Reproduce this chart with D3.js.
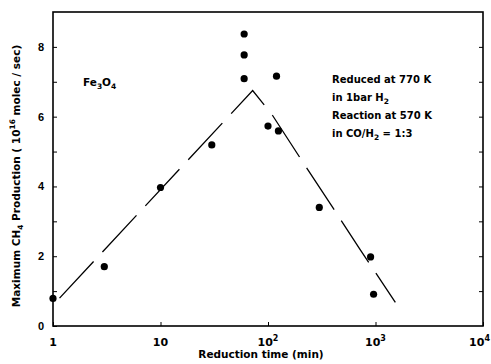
<!DOCTYPE html>
<html>
<head>
<meta charset="utf-8">
<script src="https://cdn.jsdelivr.net/npm/d3@7"></script>
<style>
  body { margin: 0; background: #fff; }
  svg { display: block; font-family: "DejaVu Sans", "Liberation Sans", sans-serif; }
</style>
</head>
<body>
<svg id="chart"></svg>
<script>
// measured points
var times = [1, 3, 10, 30, 60, 60, 60, 120, 100, 125, 300, 900, 960]
var production = [0.79, 1.70, 3.97, 5.19, 8.37, 7.77, 7.09, 7.16, 5.73, 5.59, 3.40, 1.98, 0.91]

// hand drawn trend line
var trendTime = [1.15, 72, 110, 220, 390, 720, 1530]
var trendValue = [0.8, 6.75, 6.04, 4.61, 3.45, 2.19, 0.68]

var xTicks = [1, 10, 100, 1000, 10000]
var xTickBase = ["1", "10", "10", "10", "10"]
var xTickExp = ["", "", "2", "3", "4"]
var yMajor = [0, 2, 4, 6, 8]
var yMinor = [1, 3, 5, 7]
var yAll = [1, 2, 3, 4, 5, 6, 7, 8]

var width = 491, height = 364
var margin = { top: 12, right: 8, bottom: 38, left: 53 }

var svg = d3.select("#chart")
    .attr("width", width)
    .attr("height", height)

var xScale = d3.scaleLog()
    .domain([1, 10000])
    .range([margin.left, width - margin.right])

var yScale = d3.scaleLinear()
    .domain([0, 9])
    .range([height - margin.bottom, margin.top])

var points = times.map((t, i) => ({ t: t, v: production[i] }))
var trend = trendTime.map((t, i) => ({ t: t, v: trendValue[i] }))

// frame
svg.append("rect")
    .attr("x", margin.left)
    .attr("y", margin.top)
    .attr("width", width - margin.left - margin.right)
    .attr("height", height - margin.top - margin.bottom)
    .attr("fill", "none")
    .attr("stroke", "#000")
    .attr("stroke-width", 1.6)

// left axis, ticks inward
var yAxis = svg.append("g")
    .attr("transform", `translate(${margin.left},0)`)
    .call(d3.axisLeft(yScale).tickValues(yMajor).tickSize(-4).tickPadding(9))
yAxis.select(".domain").remove()
yAxis.selectAll("text")
    .attr("font-size", 11)
    .attr("font-weight", "bold")
    .attr("fill", "#000")

svg.append("g")
    .attr("transform", `translate(${margin.left},0)`)
    .call(d3.axisLeft(yScale).tickValues(yMinor).tickSize(-4).tickFormat(""))
    .select(".domain").remove()

// right axis ticks
svg.append("g")
    .attr("transform", `translate(${width - margin.right},0)`)
    .call(d3.axisRight(yScale).tickValues(yAll).tickSize(-4).tickFormat(""))
    .select(".domain").remove()

// bottom axis
var xAxis = svg.append("g")
    .attr("transform", `translate(0,${height - margin.bottom})`)
    .call(d3.axisBottom(xScale).tickValues(xTicks).tickSize(-4).tickFormat(""))
xAxis.select(".domain").remove()

svg.selectAll(".xlab")
    .data(xTicks)
    .join("text")
    .attr("class", "xlab")
    .attr("x", (d, i) => i == xTicks.length - 1 ? width - 1 : xScale(d))
    .attr("y", 346)
    .attr("text-anchor", (d, i) => i == xTicks.length - 1 ? "end" : "middle")
    .attr("font-size", 11)
    .attr("font-weight", "bold")
    .each(function(d, i) {
        var t = d3.select(this)
        t.append("tspan").text(xTickBase[i])
        if (xTickExp[i]) {
            t.append("tspan").attr("dy", -5).attr("font-size", 8).text(xTickExp[i])
        }
    })

// axis titles
svg.append("text")
    .attr("x", 261)
    .attr("y", 358)
    .attr("text-anchor", "middle")
    .attr("font-size", 10.5)
    .attr("font-weight", "bold")
    .text("Reduction time (min)")

var yt = svg.append("text")
    .attr("transform", "translate(20,176) rotate(-90)")
    .attr("text-anchor", "middle")
    .attr("font-size", 10.5)
    .attr("font-weight", "bold")
yt.append("tspan").text("Maximum CH")
yt.append("tspan").attr("dy", 3).attr("font-size", 7.5).text("4")
yt.append("tspan").attr("dy", -3).text(" Production  ( 10")
yt.append("tspan").attr("dy", -5).attr("font-size", 7.5).text("16")
yt.append("tspan").attr("dy", 5).text(" molec / sec)")

// trend line
var lineGen = d3.line()
    .x(d => xScale(d.t))
    .y(d => yScale(d.v))

svg.append("path")
    .attr("d", lineGen(trend))
    .attr("fill", "none")
    .attr("stroke", "#000")
    .attr("stroke-width", 1.3)
    .attr("stroke-dasharray", "50,13")

// data points
svg.selectAll(".pt")
    .data(points)
    .join("circle")
    .attr("class", "pt")
    .attr("cx", d => xScale(d.t))
    .attr("cy", d => yScale(d.v))
    .attr("r", 3.6)
    .attr("fill", "#000")

// labels
var fe = svg.append("text")
    .attr("x", 83)
    .attr("y", 86)
    .attr("font-size", 10.5)
    .attr("font-weight", "bold")
fe.append("tspan").text("Fe")
fe.append("tspan").attr("dy", 3).attr("font-size", 7.5).text("3")
fe.append("tspan").attr("dy", -3).text("O")
fe.append("tspan").attr("dy", 3).attr("font-size", 7.5).text("4")

var notes = [
    [["Reduced at 770 K", 0]],
    [["in 1bar H", 0], ["2", 1]],
    [["Reaction at 570 K", 0]],
    [["in CO/H", 0], ["2", 1], [" = 1:3", 2]]
]
notes.forEach(function(parts, i) {
    var t = svg.append("text")
        .attr("x", 332)
        .attr("y", 83 + i * 18)
        .attr("font-size", 10)
        .attr("font-weight", "bold")
    parts.forEach(function(p) {
        var s = t.append("tspan").text(p[0])
        if (p[1] == 1) s.attr("dy", 3).attr("font-size", 7.5)
        if (p[1] == 2) s.attr("dy", -3)
    })
})
</script>
</body>
</html>
